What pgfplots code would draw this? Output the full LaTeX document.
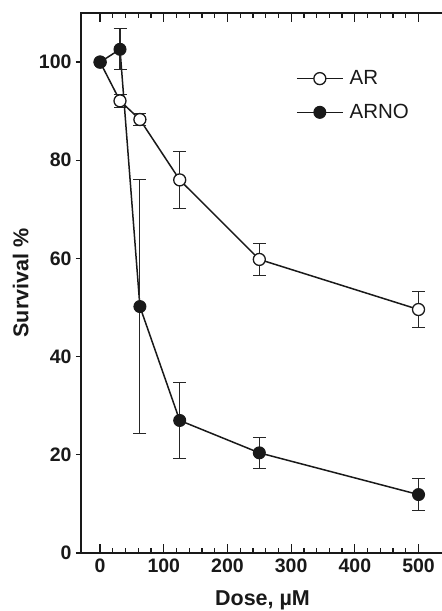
\documentclass[border=0pt]{standalone}
\usepackage{pgfplots}
\pgfplotsset{compat=1.18}
\usepackage{fontspec}
\setmainfont{Liberation Sans}
\begin{document}
\begin{tikzpicture}
\begin{axis}[
  name=ax,
  scale only axis,
  width=363pt, height=540pt,
  xmin=-30, xmax=540, ymin=0, ymax=110,
  axis line style={line width=1.5pt, black!90},
  tick align=inside,
  tick pos=both,
  xtick={0,100,200,300,400,500},
  minor x tick num=4,
  ytick=\empty,
  minor ytick={4,8,12,16,24,28,32,36,44,48,52,56,64,68,72,76,84,88,92,96,104,108},
  extra y ticks={0,20,40,60,80,100},
  extra y tick style={tick align=outside, major tick length=5pt},
  major tick length=9pt,
  minor tick length=5pt,
  every tick/.style={line width=1.3pt, black!90},
  /pgf/number format/assume math mode=true,
  tick label style={font=\bfseries\fontsize{19.5}{20}\selectfont, black!90},
  xticklabel style={yshift=-2pt},
  yticklabel style={xshift=-1pt},
  xlabel={Dose, µM},
  ylabel={Survival \%},
  every axis x label/.style={at={(axis description cs:0.5,-0.087)}, anchor=center,
    font=\bfseries\fontsize{21.5}{22}\selectfont, text=black!90},
  every axis y label/.style={at={(axis description cs:-0.166,0.5)}, anchor=center, rotate=90,
    font=\bfseries\fontsize{21.5}{22}\selectfont, text=black!90},
  legend style={draw=none, fill=none, at={(0.592,0.897)}, anchor=north west,
    font=\fontsize{20.5}{21}\selectfont, row sep=14pt, inner sep=0pt,
    nodes={inner sep=2pt, inner xsep=6pt, text=black!90}},
  legend cell align=left,
  legend image code/.code={\draw[mark repeat=2,mark phase=2,#1] plot coordinates {(0pt,0pt) (23pt,0pt) (46pt,0pt)};},
  error bars/y dir=both, error bars/y explicit,
  error bars/error bar style={line width=1.1pt, black!85},
  error bars/error mark options={rotate=90, mark size=6.5pt, line width=1.1pt, black!85},
]
\addplot[line width=1.5pt, black!90, mark=*, mark size=6pt, mark options={fill=white, line width=1.3pt}]
  table[x=x, y=y, y error=e] {
x y e
0 100 0
31.25 92.1 1.3
62.5 88.3 1.3
125 76.0 5.8
250 59.8 3.2
500 49.6 3.6
};
\addlegendentry{AR}
\addplot[line width=1.5pt, black!90, mark=*, mark size=6pt, mark options={fill=black!90, line width=1pt}]
  table[x=x, y=y, y error=e] {
x y e
0 100 0
31.25 102.6 4.2
62.5 50.2 25.8
125 27.0 7.8
250 20.4 3.2
500 11.9 3.2
};
\addlegendentry{ARNO}
\end{axis}
\pgfresetboundingbox
\useasboundingbox ([shift={(-81pt,-58pt)}]ax.south west) rectangle ([shift={(-2pt,13pt)}]ax.north east);
\end{tikzpicture}
\end{document}
